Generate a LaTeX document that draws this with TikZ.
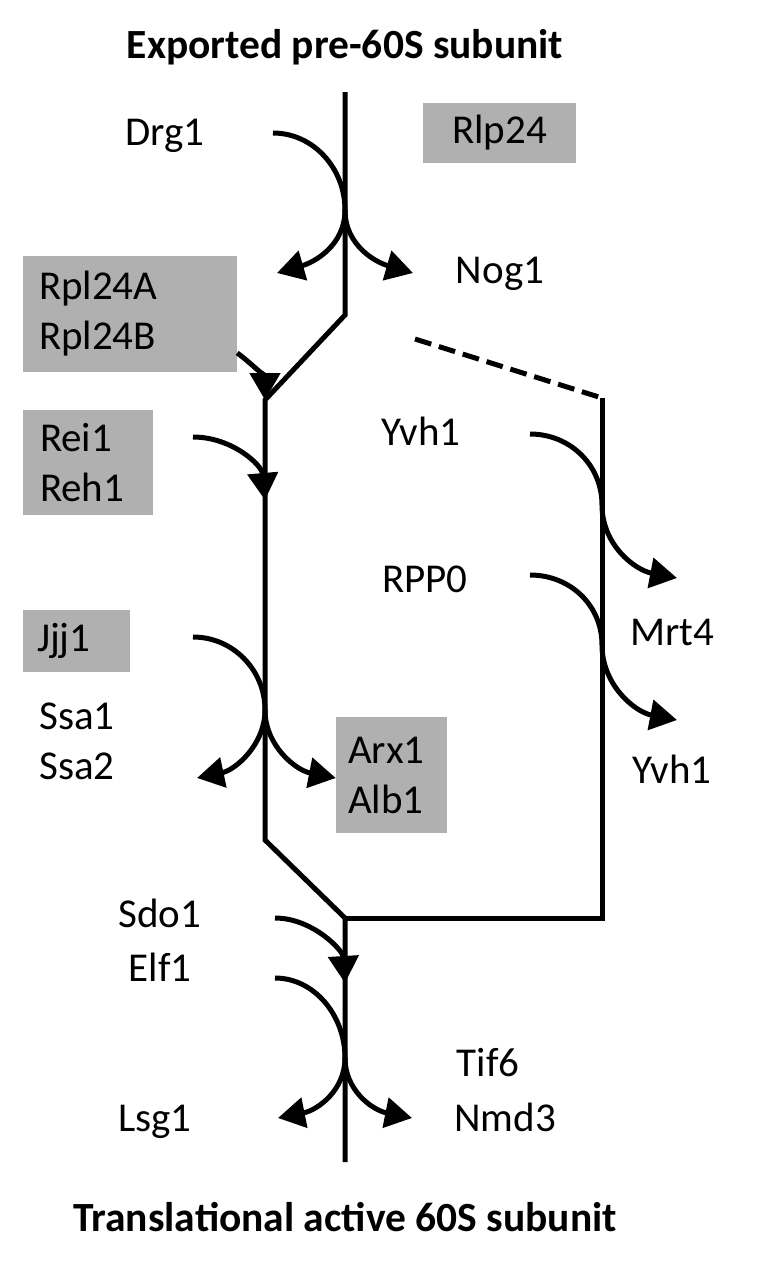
\documentclass[tikz,border=0pt]{standalone}
\usepackage{fontspec}
\setmainfont{Carlito}
\usepackage{tikz}
\usetikzlibrary{positioning,arrows.meta}
\definecolor{boxgray}{RGB}{176,176,176}

\begin{document}
\begin{tikzpicture}[
		x=1pt, y=-1pt,
		font=\fontsize{41}{50}\selectfont,
		lbl/.style={inner sep=0pt, anchor=base},
		title/.style={inner sep=0pt, anchor=base, font=\fontsize{41.5}{50}\selectfont\bfseries},
		gbox/.style={fill=boxgray, align=left, inner ysep=0pt},
		track/.style={line width=5pt},
		flow/.style={line width=5pt},
		arr/.style={flow, -{Triangle[length=27pt,width=30pt]}}
		]
		\useasboundingbox (0,0) rectangle (758,1262);
		% titles
		\node[title] (pre) at (345,58) {Exported pre-60S subunit};
		\node[title] (act) at (345,1231) {Translational active 60S subunit};
		% main pathway
		\coordinate (top) at (345,92);
		\coordinate (split) at (345,315);
		\coordinate (jl) at (265,400);
		\coordinate (jl2) at (265,840);
		\coordinate (merge) at (345,918);
		\coordinate (bot) at (345,1162);
		\coordinate (rb) at (602,918);
		\coordinate (rt) at (602,398);
		\coordinate (dsh) at (415,339);
		\draw[track] (top) -- (split) -- (jl) -- (jl2) -- (merge) -- (bot);
		\draw[track] (merge) -- (rb) -- (rt);
		\draw[track, dash pattern=on 17pt off 8pt] (dsh) -- (rt);
		% factors
		\node[lbl] (drg) at (165,145) {Drg1};
		\node[fill=boxgray, minimum width=153pt, minimum height=60pt] (rlp) at (499.5,133) {Rlp24};
		\node[lbl] (nog) at (500,283) {Nog1};
		\node[gbox, text width=182pt, inner xsep=16pt, minimum height=116pt]
			(rpl) at (130,314) {Rpl24A\\Rpl24B};
		\node[gbox, text width=96pt, inner xsep=17pt, minimum height=105pt]
			(rei) at (88,462.5) {Rei1\\Reh1};
		\node[lbl] (yvh) at (421,445) {Yvh1};
		\node[lbl] (rpp) at (425,592) {RPP0};
		\node[lbl] (mrt) at (672,645) {Mrt4};
		\node[gbox, text width=79pt, inner xsep=14pt, minimum height=62pt] (jjj) at (76.5,641) {Jjj1};
		\node[inner sep=0pt, anchor=west, align=left] (ssa) at (39,741) {Ssa1\\Ssa2};
		\node[gbox, text width=87pt, inner xsep=12pt, minimum height=116pt]
			(arx) at (391.5,775) {Arx1\\Alb1};
		\node[lbl] (yvh2) at (672,783) {Yvh1};
		\node[lbl] (sdo) at (160,927) {Sdo1};
		\node[lbl] (elf) at (160,981) {Elf1};
		\node[lbl] (tif) at (488,1076) {Tif6};
		\node[lbl] (nmd) at (505,1131) {Nmd3};
		\node[lbl] (lsg) at (155,1131) {Lsg1};
		% Drg1 release
		\coordinate (drgS) at (273,133);
		\coordinate (drgT) at (345,210);
		\draw[flow] (drgS) .. controls (313,133) and (345,168) .. (drgT);
		\draw[arr] (drgT) .. controls (345,245) and (315,262) .. (277,273);
		\draw[arr] (drgT) .. controls (345,245) and (375,262) .. (413,273);
		% Rpl24 and Rei1 binding
		\draw[arr] (rpl.east |- 0,353) .. controls (250,362) and (265,378) .. (jl);
		\draw[arr] (193,437) .. controls (232,437) and (262,465) .. (265,500);
		% Yvh1 / RPP0 exchange
		\draw[flow] (530,434) .. controls (570,434) and (602,465) .. (602,505);
		\draw[arr] (602,505) .. controls (602,545) and (635,570) .. (677,578);
		\draw[flow] (530,575) .. controls (570,575) and (602,605) .. (602,645);
		\draw[arr] (602,645) .. controls (602,685) and (635,712) .. (677,720);
		% Jjj1 cycle
		\coordinate (jjjT) at (265,710);
		\draw[flow] (193,637) .. controls (233,637) and (265,670) .. (jjjT);
		\draw[arr] (jjjT) .. controls (265,745) and (235,770) .. (197,778);
		\draw[arr] (jjjT) .. controls (265,745) and (295,770) .. (arx.west |- 0,778);
		% Sdo1 and Elf1
		\draw[arr] (275,918) .. controls (312,918) and (343,950) .. (345,983);
		\coordinate (elfT) at (345,1058);
		\draw[flow] (275,978) .. controls (314,978) and (345,1015) .. (elfT);
		\draw[arr] (elfT) .. controls (345,1090) and (318,1110) .. (278,1118);
		\draw[arr] (elfT) .. controls (345,1090) and (372,1110) .. (412,1118);
\end{tikzpicture}
\end{document}
